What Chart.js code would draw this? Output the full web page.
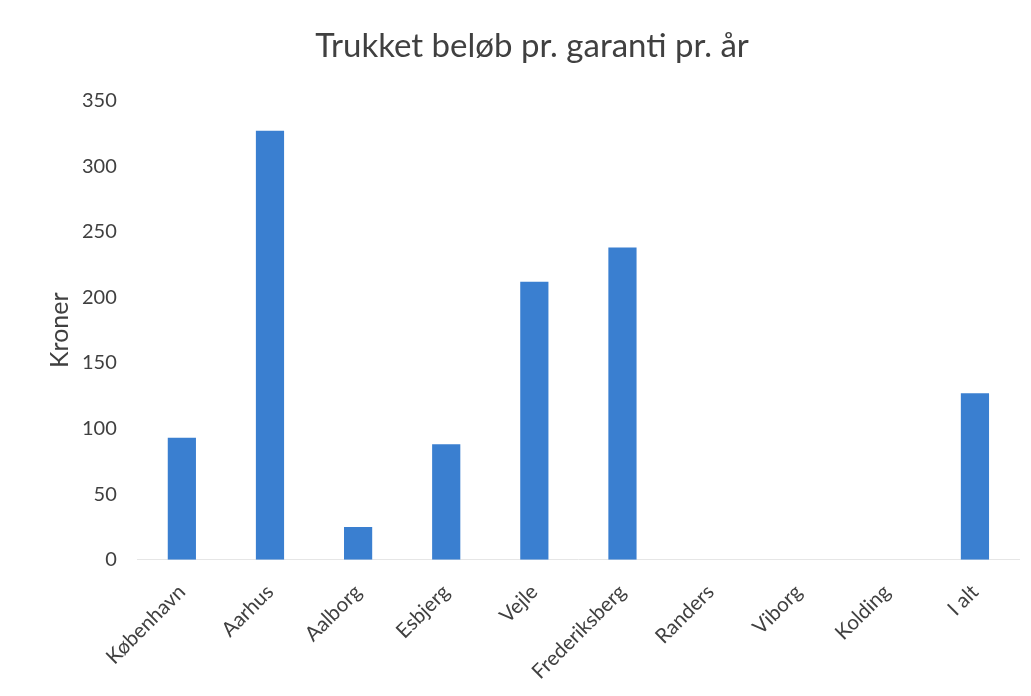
<!DOCTYPE html>
<html>
<head>
<meta charset="utf-8">
<script src="https://cdn.jsdelivr.net/npm/chart.js@4"></script>
<style>
  html, body { margin: 0; padding: 0; background: #fff; }
  #wrap { width: 1031px; height: 696px; }
</style>
</head>
<body>
<div id="wrap"><canvas id="chart"></canvas></div>
<script>
// data
const categories = ['København', 'Aarhus', 'Aalborg', 'Esbjerg', 'Vejle', 'Frederiksberg', 'Randers', 'Viborg', 'Kolding', 'I alt'];
const values = [93, 327, 25, 88, 212, 238, 0, 0, 0, 127];
const yTicks = [0, 50, 100, 150, 200, 250, 300, 350];

const fontFamily = "Lato, 'Open Sans', sans-serif";

new Chart(document.getElementById('chart'), {
    type: 'bar',
    data: {
        labels: categories,
        datasets: [{
            data: values,
            backgroundColor: '#3a7fd0',
            categoryPercentage: 1,
            barPercentage: 0.32
        }]
    },
    options: {
        responsive: true,
        maintainAspectRatio: false,
        animation: false,
        layout: { padding: { top: 0, right: 12, bottom: -8, left: 45 } },
        plugins: {
            legend: { display: false },
            tooltip: { enabled: false },
            title: {
                display: true,
                text: 'Trukket beløb pr. garanti pr. år',
                color: '#404040',
                font: { family: fontFamily, size: 33, weight: 'normal' },
                padding: { top: 27, bottom: 34 }
            }
        },
        scales: {
            x: {
                grid: { display: false, drawTicks: false },
                border: { color: '#e6e6e6' },
                ticks: {
                    color: '#404040',
                    font: { family: fontFamily, size: 20.5 },
                    maxRotation: 45,
                    minRotation: 45,
                    padding: 20
                }
            },
            y: {
                min: 0,
                max: 350,
                afterBuildTicks: axis => { axis.ticks = yTicks.map(v => ({ value: v })); },
                grid: { display: false, drawTicks: false },
                border: { display: false },
                title: {
                    display: true,
                    text: 'Kroner',
                    color: '#404040',
                    font: { family: fontFamily, size: 25 },
                    padding: { top: 0, bottom: -14 }
                },
                ticks: {
                    color: '#404040',
                    font: { family: fontFamily, size: 20 },
                    padding: 21
                }
            }
        }
    }
});
</script>
</body>
</html>
